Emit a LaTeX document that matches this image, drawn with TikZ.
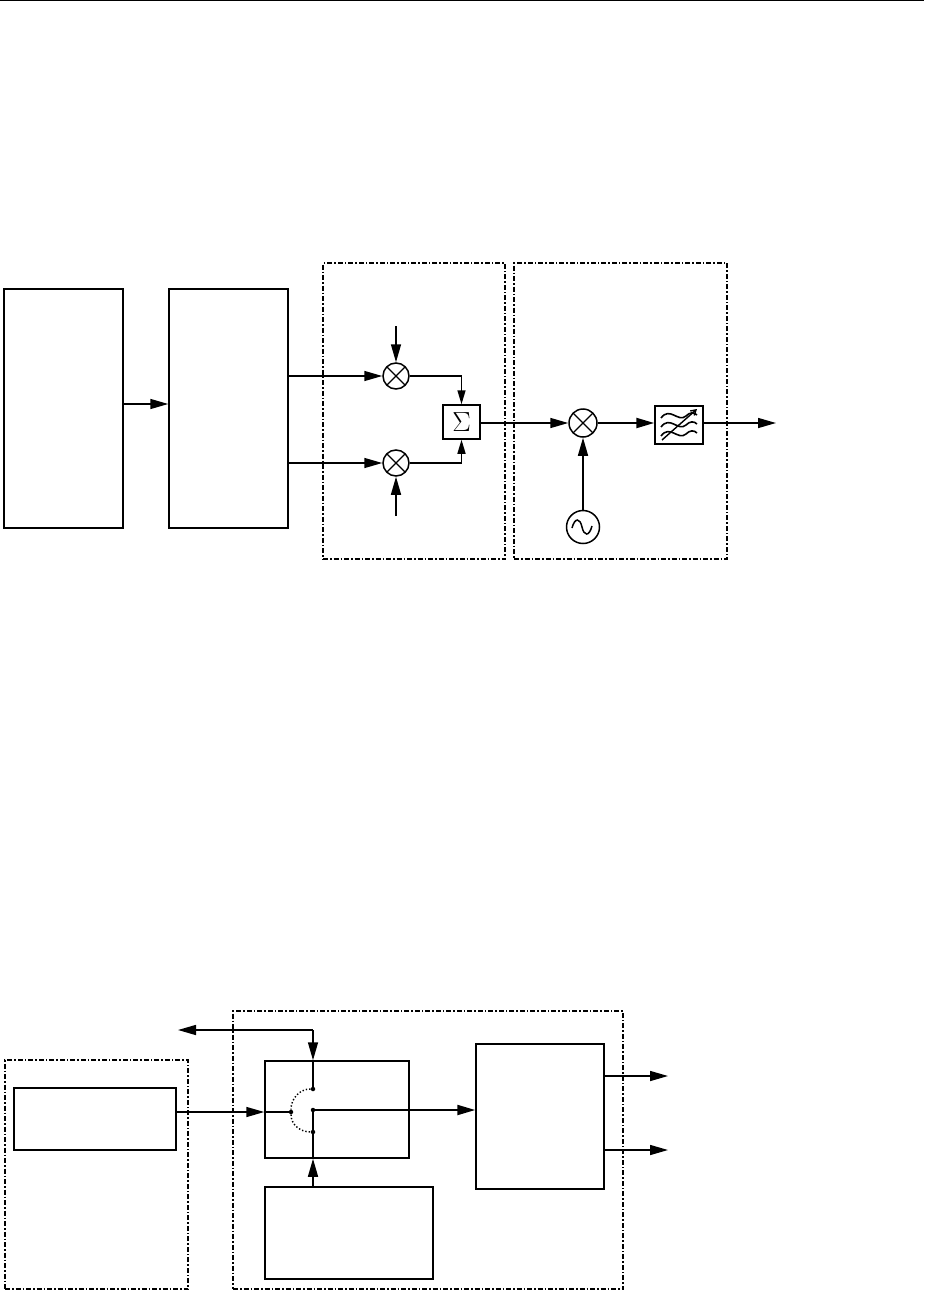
\documentclass[tikz,border=0pt]{standalone}
\usepackage{amsmath,amssymb}
\usepackage{xcolor}
\usetikzlibrary{arrows.meta,positioning}

\begin{document}
\begin{tikzpicture}[
      x=1pt, y=-1pt,
      blk/.style={rectangle, draw, line width=1.5pt, inner sep=0pt},
      frm/.style={rectangle, draw, line width=1.1pt, inner sep=0pt, dash pattern=on 5pt off 2pt on 1.5pt off 2pt},
      mix/.style={circle, draw, line width=1.5pt, inner sep=0pt, minimum size=26pt,
        path picture={\draw[line width=1.2pt]
          (path picture bounding box.north west)--(path picture bounding box.south east)
          (path picture bounding box.north east)--(path picture bounding box.south west);}},
      dotn/.style={circle, fill, inner sep=0pt, minimum size=4.5pt},
      lnk/.style={line width=1.5pt},
      bold/.style={line width=2.2pt},
      >={Triangle[length=18pt,width=10pt]},
      small/.style={-{Triangle[length=14pt,width=8pt]}}]
    \useasboundingbox (0,0) rectangle (924,1292);
    \coordinate (ruleL) at (0,0.7);
    \coordinate (ruleR) at (924,0.7);
    \draw[line width=1.2pt] (ruleL)--(ruleR);

    % upper chain
    \node[frm, minimum width=182pt, minimum height=296pt] (frmA) at (414,411) {};
    \node[frm, minimum width=213pt, minimum height=296pt] (frmB) at (620.5,411) {};
    \node[blk, minimum width=119pt, minimum height=239pt] (srcA) at (63.5,408.5) {};
    \node[blk, minimum width=119pt, minimum height=239pt] (srcB) at (228.5,408.5) {};
    \node[mix] (mixU) at (396,376) {};
    \node[mix] (mixL) at (396,463) {};
    \node[blk, minimum width=37pt, minimum height=34pt, font=\LARGE] (sum) at (461.5,422) {\scalebox{1.6}{$\Sigma$}};
    \node[mix, minimum size=28pt] (mixR) at (583,423) {};
    \node[circle, draw, line width=1.5pt, inner sep=0pt, minimum size=33pt] (osc) at (583,527) {};
    \node[blk, minimum width=48pt, minimum height=38pt] (flt) at (679,425) {};
    \coordinate (inU) at (396,326);
    \coordinate (inL) at (396,516);
    \coordinate (outT) at (776,423);

    \draw[lnk,->] (srcA.east|-0,404)--(srcB.west|-0,404);
    \draw[lnk,->] (srcB.east|-mixU)--(mixU);
    \draw[lnk,->] (srcB.east|-mixL)--(mixL);
    \draw[lnk,->] (inU)--(mixU);
    \draw[lnk,->] (inL)--(mixL);
    \draw[lnk,small] (mixU)-|(sum.north);
    \draw[lnk,small] (mixL)-|(sum.south);
    \draw[lnk,->] (sum.east|-mixR)--(mixR);
    \draw[lnk,->] (osc)--(mixR);
    \draw[bold,->] (mixR)--(flt.west|-mixR);
    \draw[lnk,->] (flt.east|-outT)--(outT);

    % sine and filter marks
    \draw[line width=1.5pt] (572,528) .. controls (575,517) and (580,518) .. (582,527)
      .. controls (584,536) and (589,537) .. (592,526);
    \draw[line width=1.6pt] (661,418) .. controls (670,406) and (678,423) .. (686,416) .. controls (690,412) and (694,412) .. (697,415);
    \draw[line width=1.6pt] (661,427) .. controls (670,415) and (678,432) .. (686,425) .. controls (690,421) and (694,421) .. (697,424);
    \draw[line width=1.6pt] (661,436) .. controls (670,424) and (678,441) .. (686,434) .. controls (690,430) and (694,430) .. (697,433);
    \draw[line width=1.4pt,-{Straight Barb[length=5pt,width=6pt]}] (662,440)--(697,409);

    % lower chain
    \node[frm, minimum width=183pt, minimum height=229pt] (frmC) at (96.5,1174.5) {};
    \node[frm, minimum width=390pt, minimum height=278pt] (frmD) at (428,1150) {};
    \node[blk, minimum width=162pt, minimum height=62pt] (gen) at (95,1119) {};
    \node[blk, minimum width=144pt, minimum height=97pt] (swt) at (337,1109.5) {};
    \node[blk, minimum width=168pt, minimum height=92pt] (ctl) at (349,1233) {};
    \node[blk, minimum width=128pt, minimum height=145pt] (mod) at (540,1116.5) {};
    \node[dotn] (dT) at (313,1089) {};
    \node[dotn] (dC) at (313,1110) {};
    \node[dotn] (dB) at (313,1132) {};
    \node[dotn] (dI) at (291,1112) {};
    \coordinate (fbk) at (313,1030);
    \coordinate (fbkEnd) at (178,1030);
    \coordinate (outA) at (668,1076);
    \coordinate (outB) at (668,1150);

    \draw[lnk,->] (gen.east|-dI)--(swt.west|-dI);
    \draw[lnk] (swt.west|-dI)--(dI);
    \draw[lnk,->] (fbk)--(fbk-|fbkEnd);
    \draw[lnk,->] (fbk)--(swt.north-|fbk);
    \draw[lnk] (swt.north-|fbk)--(dT);
    \draw[lnk,->] (ctl.north-|dB)--(swt.south-|dB);
    \draw[bold] (swt.south-|dB)--(dB)--(dC);
    \draw[bold,->] (dC)--(dC-|mod.west);
    \draw[line width=1.4pt, dotted] (dT) to[out=180,in=90] (dI);
    \draw[line width=1.4pt, dotted] (dI) to[out=-90,in=180] (dB);
    \draw[lnk,->] (mod.east|-outA)--(outA);
    \draw[lnk,->] (mod.east|-outB)--(outB);
  \end{tikzpicture}
\end{document}
